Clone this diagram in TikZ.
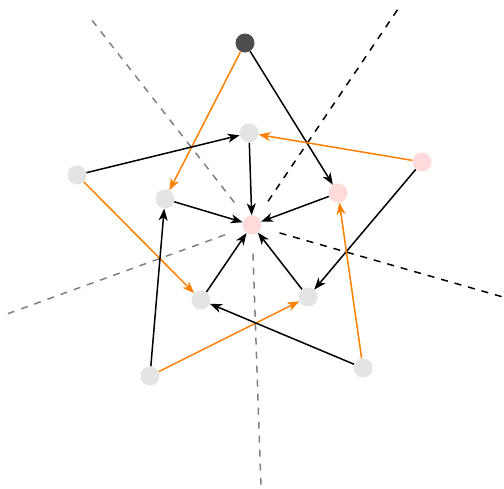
\documentclass[tikz,border=0pt]{standalone}
\usetikzlibrary{arrows.meta}
\definecolor{orng}{RGB}{255,128,0}
\definecolor{lgray}{RGB}{228,228,228}
\definecolor{pnk}{RGB}{255,218,218}
\definecolor{dgray}{RGB}{77,77,77}
\pgfdeclarelayer{bg}
\pgfsetlayers{bg,main}
\begin{document}
\begin{tikzpicture}[x=1pt,y=-1pt,
  vert/.style={circle,inner sep=0pt,minimum size=19pt,fill=lgray},
  pvert/.style={vert,fill=pnk},
  dvert/.style={vert,fill=dgray},
  edge/.style={line width=1.5pt,-{Stealth[length=12pt,width=9pt,inset=3.5pt]}},
  oedge/.style={edge,draw=orng},
  bedge/.style={edge,draw=black},
  dline/.style={line width=1.5pt,dash pattern=on 7pt off 7pt,shorten <=19pt},
]
\useasboundingbox (0,0) rectangle (504,488);
\coordinate (d1) at (398,9);
\coordinate (d2) at (503,297);
\coordinate (g1) at (91,19);
\coordinate (g2) at (7,314);
\coordinate (g3) at (261,487);
\node[dvert] (T) at (245,43) {};
\node[vert] (A) at (249,133) {};
\node[vert] (B) at (77,175) {};
\node[vert] (C) at (165,199) {};
\node[pvert] (D) at (338,193) {};
\node[pvert] (E) at (422,162) {};
\node[pvert] (X) at (252,225) {};
\node[vert] (F) at (201,300) {};
\node[vert] (G) at (308,297) {};
\node[vert] (H) at (150,376) {};
\node[vert] (I) at (363,368) {};
\begin{pgfonlayer}{bg}
\draw[dline,black] (X) -- (d1);
\draw[dline,black] (X) -- (d2);
\draw[dline,gray] (X) -- (g1);
\draw[dline,gray] (X) -- (g2);
\draw[dline,gray] (X) -- (g3);
\draw[oedge] (T) -- (C);
\draw[bedge] (T) -- (D);
\draw[bedge] (B) -- (A);
\draw[oedge] (E) -- (A);
\draw[bedge] (A) -- (X);
\draw[bedge] (C) -- (X);
\draw[bedge] (D) -- (X);
\draw[bedge] (F) -- (X);
\draw[bedge] (G) -- (X);
\draw[oedge] (B) -- (F);
\draw[bedge] (E) -- (G);
\draw[bedge] (H) -- (C);
\draw[oedge] (I) -- (D);
\draw[oedge] (H) -- (G);
\draw[bedge] (I) -- (F);
\end{pgfonlayer}
\end{tikzpicture}
\end{document}
